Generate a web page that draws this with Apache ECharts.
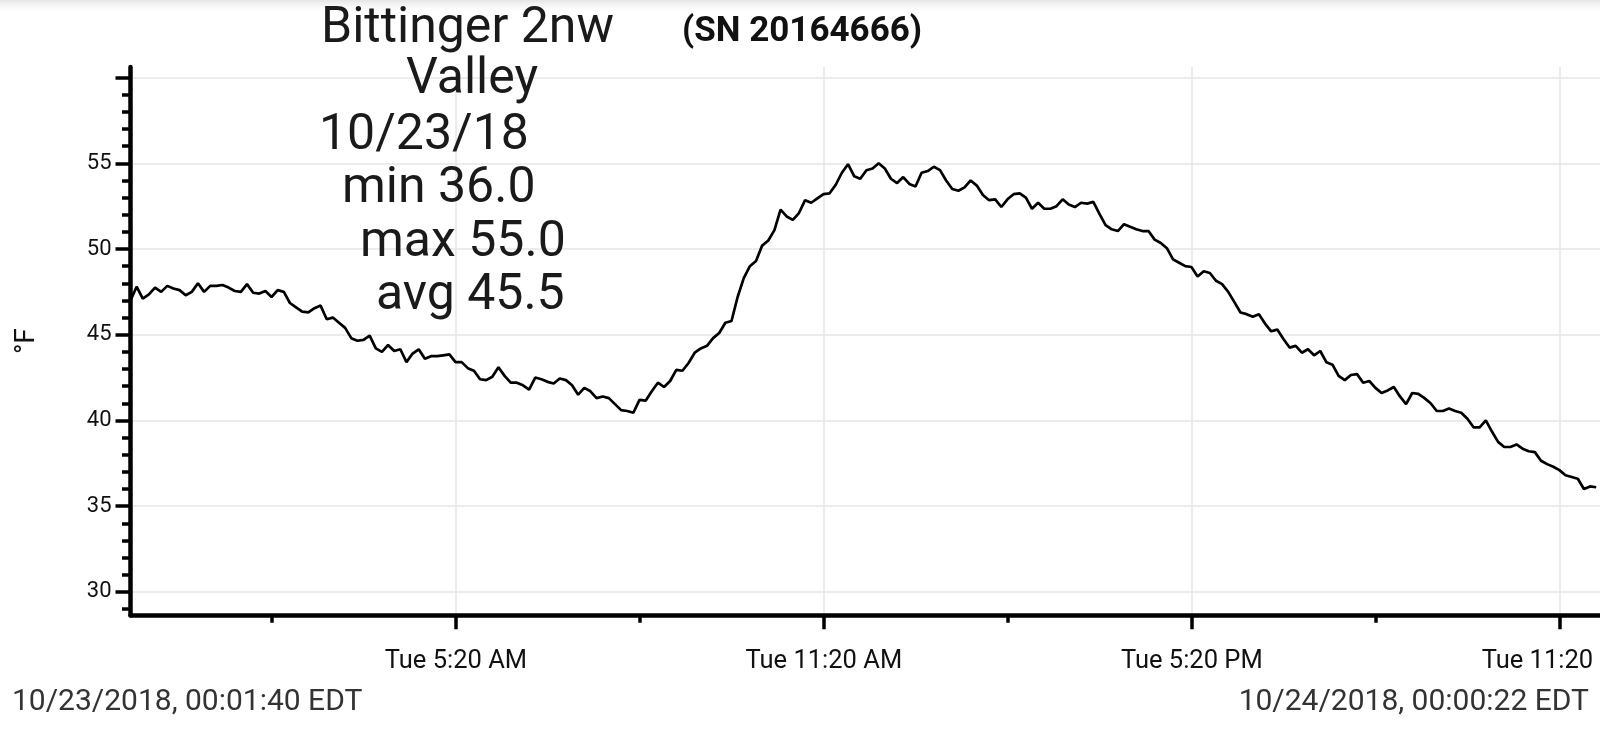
<!DOCTYPE html>
<html>
<head>
<meta charset="utf-8">
<title>Bittinger 2nw Valley</title>
<script src="https://cdn.jsdelivr.net/npm/echarts@6/dist/echarts.min.js"></script>
<style>
  html, body { margin: 0; padding: 0; background: #fff; }
  #chart { width: 1600px; height: 729px; }
</style>
</head>
<body>
<div id="chart"></div>
<script>
// logger readings (°F), one every 6 minutes from 00:01:40
const tempNight = [47.0, 47.8, 47.1, 47.35, 47.75, 47.5, 47.85, 47.7, 47.6, 47.3, 47.5, 48.0,
  47.5, 47.85, 47.85, 47.9, 47.75, 47.55, 47.5, 47.95, 47.45, 47.4, 47.55, 47.2,
  47.6, 47.5, 46.85, 46.6, 46.35, 46.3, 46.55, 46.7, 45.9, 46.0, 45.7, 45.4,
  44.8, 44.65, 44.7, 44.95, 44.2, 44.0, 44.4, 44.05, 44.15, 43.4, 43.9, 44.15]
const tempMorning = [43.6, 43.75, 43.75, 43.8, 43.85, 43.4, 43.4, 43.05, 42.9, 42.4, 42.35, 42.55,
  43.1, 42.6, 42.2, 42.2, 42.05, 41.8, 42.5, 42.4, 42.25, 42.15, 42.45, 42.35,
  42.05, 41.5, 41.9, 41.7, 41.3, 41.4, 41.3, 40.95, 40.6, 40.55, 40.45, 41.2,
  41.15, 41.7, 42.2, 41.95, 42.3, 42.95, 42.9, 43.35, 43.95, 44.2, 44.35, 44.8]
const tempMidday = [45.1, 45.7, 45.8, 47.2, 48.3, 49.0, 49.3, 50.2, 50.5, 51.1, 52.3, 51.9,
  51.7, 52.1, 52.85, 52.7, 52.95, 53.2, 53.25, 53.75, 54.45, 54.95, 54.25, 54.1,
  54.6, 54.7, 55.0, 54.7, 54.1, 53.85, 54.2, 53.8, 53.65, 54.45, 54.55, 54.8,
  54.6, 54.0, 53.5, 53.4, 53.6, 54.0, 53.7, 53.15, 52.85, 52.9, 52.45, 52.9]
const tempAfternoon = [53.2, 53.25, 53.0, 52.35, 52.7, 52.35, 52.35, 52.5, 52.9, 52.6, 52.45, 52.7,
  52.65, 52.75, 52.05, 51.4, 51.15, 51.05, 51.45, 51.3, 51.15, 51.05, 51.05, 50.55,
  50.35, 50.05, 49.4, 49.2, 49.0, 48.95, 48.4, 48.7, 48.6, 48.15, 47.95, 47.5,
  46.9, 46.3, 46.2, 46.05, 46.2, 45.65, 45.2, 45.3, 44.75]
const tempEvening = [44.25, 44.35, 43.95, 44.15, 43.8, 44.05, 43.4, 43.25, 42.6, 42.35, 42.65, 42.7,
  42.2, 42.3, 41.9, 41.6, 41.75, 41.95, 41.4, 40.95, 41.6, 41.55, 41.3, 41.0,
  40.55, 40.55, 40.7, 40.55, 40.45, 40.1, 39.6, 39.6, 40.0, 39.35, 38.75, 38.45,
  38.45, 38.6, 38.35, 38.2, 38.15, 37.65, 37.45, 37.3, 37.1, 36.8, 36.7, 36.6,
  36.0, 36.15, 36.1]

// time axis in hours since midnight
const startHour = 100 / 3600      // 00:01:40
const endHour = 24 + 22 / 3600    // 00:00:22 next day
const stepHour = 6 / 60

const xTickHours = [5 + 20 / 60, 11 + 20 / 60, 17 + 20 / 60, 23 + 20 / 60]
const xTickLabels = ['Tue 5:20 AM', 'Tue 11:20 AM', 'Tue 5:20 PM', 'Tue 11:20 PM']
const xMinorHours = [2 + 20 / 60, 8 + 20 / 60, 14 + 20 / 60, 20 + 20 / 60]

const yLabelValues = [30, 35, 40, 45, 50, 55]
const yMajorTicks = [30, 35, 40, 45, 50, 55, 60]
const yMinorTicks = []
for (let v = 29; v <= 60; v++) yMinorTicks.push(v)

const titleLines = ['Bittinger 2nw', 'Valley', '10/23/18', 'min 36.0', 'max 55.0', 'avg 45.5']
const titleLeft = [321, 406, 319, 342, 360, 376]
const titleTop = [4, 55, 111, 164, 218, 271]

const temps = tempNight.concat(tempMorning, tempMidday, tempAfternoon, tempEvening)
const points = temps.map((t, i) => [startHour + i * stepHour, t])

const chart = echarts.init(document.getElementById('chart'))
const font = 'Roboto, "Noto Sans", sans-serif'

const titles = titleLines.map((t, i) => ({
  text: t,
  left: titleLeft[i],
  top: titleTop[i],
  padding: 0,
  textStyle: { fontFamily: font, fontSize: 50, fontWeight: 'normal', color: '#1a1a1a' }
}))
titles.push({
  text: '(SN 20164666)',
  left: 682,
  top: 15,
  padding: 0,
  textStyle: { fontFamily: font, fontSize: 35, fontWeight: 'bold', color: '#111' }
})
titles.push({
  text: '10/23/2018, 00:01:40 EDT',
  left: 12,
  top: 687,
  padding: 0,
  textStyle: { fontFamily: font, fontSize: 30, fontWeight: 'normal', color: '#333' }
})
titles.push({
  text: '10/24/2018, 00:00:22 EDT',
  right: 11,
  top: 687,
  padding: 0,
  textStyle: { fontFamily: font, fontSize: 30, fontWeight: 'normal', color: '#333' }
})

function xLabel(v) {
  for (let i = 0; i < xTickHours.length; i++) {
    if (Math.abs(xTickHours[i] - v) < 1e-6) return xTickLabels[i]
  }
  return ''
}

chart.setOption({
  animation: false,
  backgroundColor: '#fff',
  title: titles,
  graphic: [{
    type: 'rect',
    shape: { x: 0, y: 0, width: 1600, height: 14 },
    style: {
      fill: new echarts.graphic.LinearGradient(0, 0, 0, 1, [
        { offset: 0, color: '#e4e4e4' },
        { offset: 1, color: 'rgba(255,255,255,0)' }
      ])
    },
    silent: true,
    z: -1
  }],
  grid: {
    left: 130.5,
    right: -1,
    top: 67,
    bottom: 113.7,
    containLabel: false,
    outerBoundsMode: 'none'
  },
  xAxis: [
    {
      type: 'value',
      min: startHour,
      max: endHour,
      position: 'bottom',
      axisLine: { show: true, onZero: false, lineStyle: { color: '#000', width: 4.5 } },
      axisTick: { show: true, length: 14, customValues: xTickHours, lineStyle: { color: '#000', width: 3.5 } },
      axisLabel: {
        show: true,
        customValues: xTickHours,
        formatter: xLabel,
        margin: 33,
        fontFamily: font,
        fontSize: 25.5,
        color: '#111'
      },
      splitLine: { show: true, lineStyle: { color: '#e6e6e6', width: 1.5 } }
    },
    {
      type: 'value',
      min: startHour,
      max: endHour,
      position: 'bottom',
      axisLine: { show: false },
      axisTick: { show: true, length: 7.5, customValues: xMinorHours, lineStyle: { color: '#000', width: 3.5 } },
      axisLabel: { show: false },
      splitLine: { show: false }
    }
  ],
  yAxis: [
    {
      type: 'value',
      min: 28.63,
      max: 60.62,
      position: 'left',
      name: '°F',
      nameLocation: 'middle',
      nameRotate: 90,
      nameGap: 90,
      nameTextStyle: { fontFamily: font, fontSize: 28, color: '#111' },
      axisLine: { show: true, onZero: false, lineStyle: { color: '#000', width: 4.5 } },
      axisTick: { show: true, length: 15, customValues: yMajorTicks, lineStyle: { color: '#000', width: 3.5 } },
      axisLabel: {
        show: true,
        customValues: yLabelValues,
        margin: 19,
        fontFamily: font,
        fontSize: 22,
        color: '#111'
      },
      splitLine: { show: true, lineStyle: { color: '#e6e6e6', width: 1.5 } }
    },
    {
      type: 'value',
      min: 28.63,
      max: 60.62,
      position: 'left',
      axisLine: { show: false },
      axisTick: { show: true, length: 8.5, customValues: yMinorTicks, lineStyle: { color: '#000', width: 3.5 } },
      axisLabel: { show: false },
      splitLine: { show: false }
    }
  ],
  series: [
    {
      type: 'line',
      data: points,
      showSymbol: false,
      clip: true,
      lineStyle: { color: '#000', width: 2.7 }
    }
  ]
})
</script>
</body>
</html>
